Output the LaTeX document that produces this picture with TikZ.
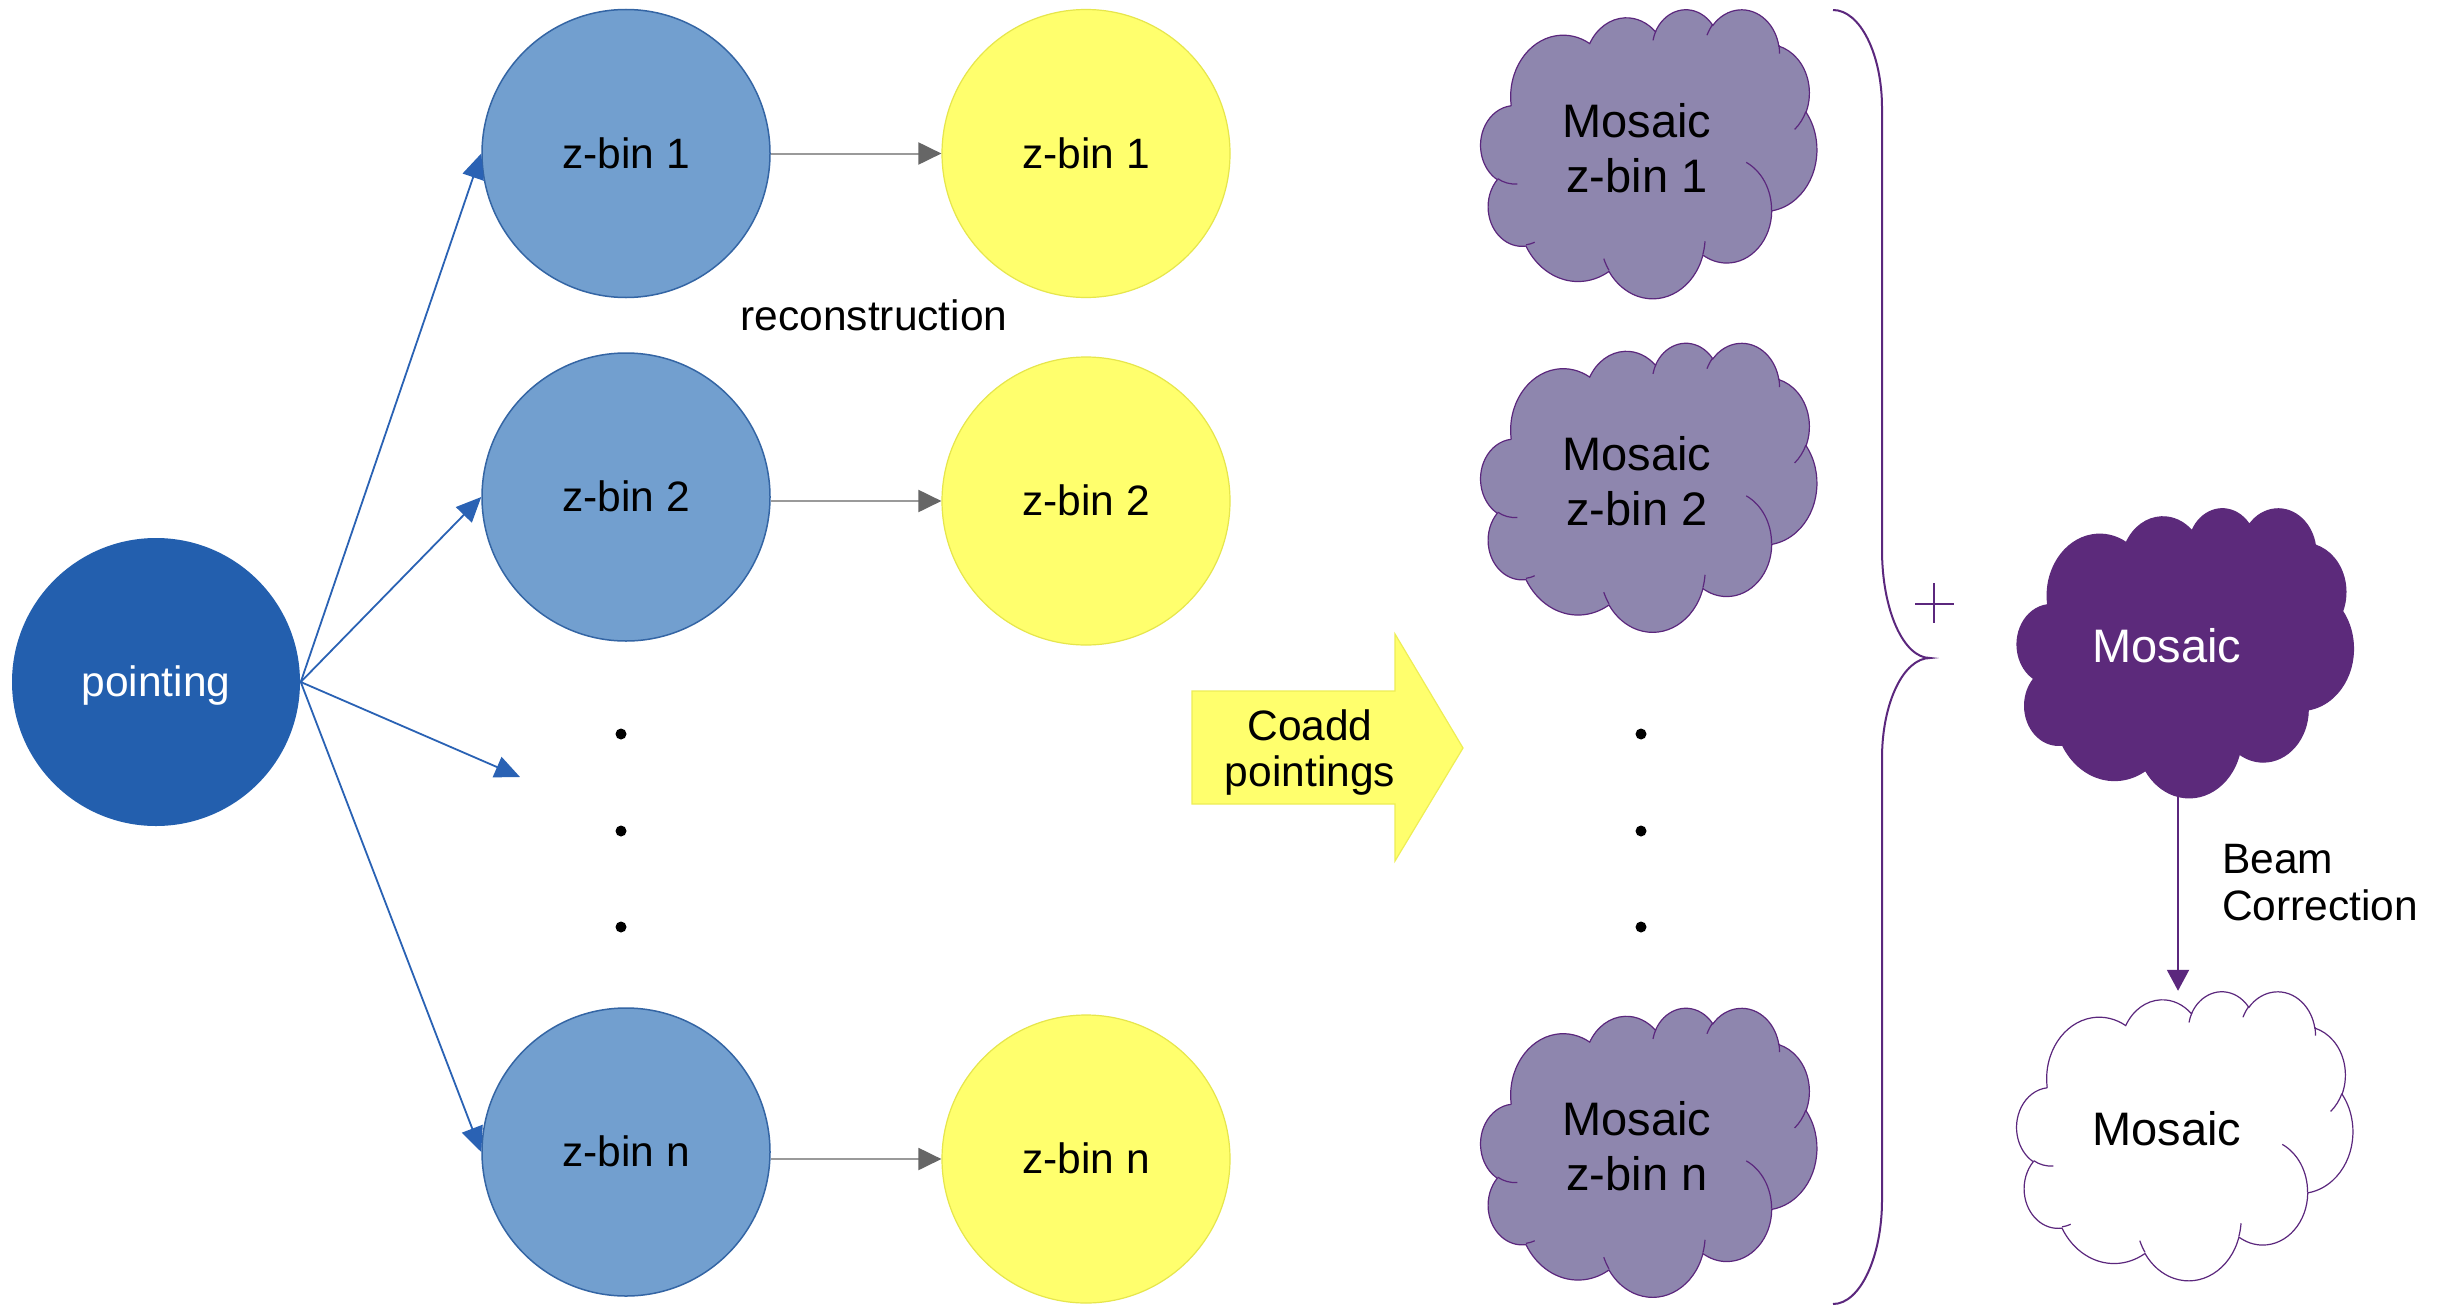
\documentclass[tikz,border=0pt]{standalone}
\usepackage{fontspec}
\setmainfont{Liberation Sans}
\usetikzlibrary{arrows.meta}
\definecolor{pointblue}{HTML}{235FAE}
\definecolor{zblue}{HTML}{729FCF}
\definecolor{zblueline}{HTML}{3465A4}
\definecolor{zyellow}{HTML}{FFFF6D}
\definecolor{zyellowline}{HTML}{E6E64C}
\definecolor{arrowblue}{HTML}{2A62B4}
\definecolor{graylinec}{HTML}{9A9A9A}
\definecolor{grayhead}{HTML}{666666}
\definecolor{cloudfill}{HTML}{8E86AE}
\definecolor{purpleline}{HTML}{5B277D}
\definecolor{darkpurple}{HTML}{5C2A7B}
\definecolor{coaddline}{HTML}{EEEE55}

% OOXML cloud: convert visual angles to parametric angles
\newcommand\cldcalc[5]{%
  \pgfmathsetmacro\cldtmps{atan2((#2)*sin(#4),(#3)*cos(#4))}%
  \pgfmathsetmacro\cldtmpe{atan2((#2)*sin(#4+#5),(#3)*cos(#4+#5))}%
  \pgfmathsetmacro\cldtmpe{(\cldtmpe<\cldtmps) ? (\cldtmpe+360) : (\cldtmpe)}%
  \expandafter\let\csname cld#1s\endcsname\cldtmps
  \expandafter\let\csname cld#1e\endcsname\cldtmpe}
\cldcalc{A}{67.53}{91.90}{-190.48748}{123.78053}
\cldcalc{B}{53.33}{72.67}{-144.10238}{89.94523}
\cldcalc{C}{43.65}{59.45}{-145.80792}{99.72302}
\cldcalc{D}{48.57}{65.95}{-130.98607}{117.24173}
\cldcalc{E}{53.33}{72.73}{-78.70888}{109.02692}
\cldcalc{F}{67.75}{92.20}{-46.26725}{130.269}
\cldcalc{G}{57.85}{78.67}{0.62502}{114.03333}
\cldcalc{H}{67.52}{92.15}{22.4516}{115.17255}
\cldcalc{I}{77.20}{105.43}{66.24263}{75.71102}
\cldcalc{J}{43.60}{59.18}{-274.94208}{146.73557}
\cldcalc{K}{43.45}{59.45}{-246.8285}{152.51885}
\cldcalc{L}{43.45}{59.45}{86.742}{26.4295}
\cldcalc{M}{43.60}{59.18}{73.61047}{11.44747}
\cldcalc{N}{67.52}{92.15}{137.62415}{14.0811}
\cldcalc{O}{67.52}{92.15}{6.45327}{15.99835}
\cldcalc{P}{57.85}{78.67}{-70.29235}{70.91737}
\cldcalc{Q}{53.33}{72.73}{30.31803}{27.7515}
\cldcalc{R}{48.57}{65.95}{-13.74433}{14.8589}
\cldcalc{S}{48.57}{65.95}{-149.18145}{18.19537}
\cldcalc{T}{43.65}{59.45}{-163.49427}{17.68635}

\newcommand\cloudshape[3]{%
  \begin{scope}[shift={(#1.north west)}, xscale=336/432, yscale=289/432]
    \path[fill=#2, draw=#3, line width=1.2pt] (39.00,143.70)
      arc[start angle=\cldAs, end angle=\cldAe, x radius=67.53, y radius=91.90]
      arc[start angle=\cldBs, end angle=\cldBe, x radius=53.33, y radius=72.67]
      arc[start angle=\cldCs, end angle=\cldCe, x radius=43.65, y radius=59.45]
      arc[start angle=\cldDs, end angle=\cldDe, x radius=48.57, y radius=65.95]
      arc[start angle=\cldEs, end angle=\cldEe, x radius=53.33, y radius=72.73]
      arc[start angle=\cldFs, end angle=\cldFe, x radius=67.75, y radius=92.20]
      arc[start angle=\cldGs, end angle=\cldGe, x radius=57.85, y radius=78.67]
      arc[start angle=\cldHs, end angle=\cldHe, x radius=67.52, y radius=92.15]
      arc[start angle=\cldIs, end angle=\cldIe, x radius=77.20, y radius=105.43]
      arc[start angle=\cldJs, end angle=\cldJe, x radius=43.60, y radius=59.18]
      arc[start angle=\cldKs, end angle=\cldKe, x radius=43.45, y radius=59.45]
      -- cycle;
    \draw[#3, line width=1.2pt]
      (46.93,261.77) arc[start angle=\cldLs, end angle=\cldLe, x radius=43.45, y radius=59.45]
      (69.28,348.99) arc[start angle=\cldMs, end angle=\cldMe, x radius=43.60, y radius=59.18]
      (164.78,390.90) arc[start angle=\cldNs, end angle=\cldNe, x radius=67.52, y radius=92.15]
      (288.27,347.51) arc[start angle=\cldOs, end angle=\cldOe, x radius=67.52, y radius=92.15]
      (341.29,229.54) arc[start angle=\cldPs, end angle=\cldPe, x radius=57.85, y radius=78.67]
      (417.98,153.54) arc[start angle=\cldQs, end angle=\cldQe, x radius=53.33, y radius=72.73]
      (383.24,54.26) arc[start angle=\cldRs, end angle=\cldRe, x radius=48.57, y radius=65.95]
      (290.78,39.52) arc[start angle=\cldSs, end angle=\cldSe, x radius=48.57, y radius=65.95]
      (221.41,47.20) arc[start angle=\cldTs, end angle=\cldTe, x radius=43.65, y radius=59.45];
  \end{scope}}

\begin{document}
\begin{tikzpicture}[x=1pt, y=-1pt,
  font=\fontsize{42.5}{46}\selectfont,
  circ/.style={circle, minimum size=288pt, inner sep=0pt, text height=38.5pt, text depth=9pt, line width=1.5pt},
  pointnode/.style={circ, fill=pointblue, text=white},
  zbinblue/.style={circ, fill=zblue, draw=zblueline},
  zbinyellow/.style={circ, fill=zyellow, draw=zyellowline, line width=1.2pt},
  bluearrow/.style={draw=arrowblue, line width=1.8pt, -{Triangle[length=25pt,width=22pt]}},
  grayarrow/.style={draw=graylinec, line width=2pt, -{Triangle[length=23pt,width=22pt,color=grayhead]}},
  purplearrow/.style={draw=purpleline, line width=2pt, -{Triangle[length=21pt,width=22pt]}},
  cloudbox/.style={rectangle, minimum width=336pt, minimum height=289pt, inner sep=0pt},
  cloudtext/.style={anchor=base, align=center, inner sep=0pt, font=\fontsize{47}{55}\selectfont},
  label/.style={anchor=base, inner sep=0pt},
  dotmark/.style={fill=black}
]
\useasboundingbox (0,0) rectangle (2448,1306);
\fill[white] (0,0) rectangle (2448,1306);

% circles
\node[pointnode] (P) at (156,682) {pointing};
\node[zbinblue] (B1) at (626,153.5) {z-bin 1};
\node[zbinblue] (B2) at (626,497) {z-bin 2};
\node[zbinblue] (Bn) at (626,1152) {z-bin n};
\node[zbinyellow] (Y1) at (1086,153.5) {z-bin 1};
\node[zbinyellow] (Y2) at (1086,501) {z-bin 2};
\node[zbinyellow] (Yn) at (1086,1159) {z-bin n};

% pointing arrows
\coordinate (free) at (520,777);
\draw[bluearrow] (P.east) -- (B1.west);
\draw[bluearrow] (P.east) -- (B2.west);
\draw[bluearrow] (P.east) -- (free);
\draw[bluearrow] (P.east) -- (Bn.west);

% reconstruction arrows
\draw[grayarrow] (Y1.west -| B1.east) -- (Y1.west);
\draw[grayarrow] (Y2.west -| B2.east) -- (Y2.west);
\draw[grayarrow] (Yn.west -| Bn.east) -- (Yn.west);
\node[label] (rec) at (874,330) {reconstruction};

% dots
\fill[dotmark] (621,734) circle[radius=5.5];
\fill[dotmark] (621,831) circle[radius=5.5];
\fill[dotmark] (621,927) circle[radius=5.5];
\fill[dotmark] (1641,734) circle[radius=5.5];
\fill[dotmark] (1641,831) circle[radius=5.5];
\fill[dotmark] (1641,927) circle[radius=5.5];

% Coadd block arrow
\path[fill=zyellow, draw=coaddline, line width=1.2pt]
  (1192,691) -- (1395,691) -- (1395,634) -- (1463,748) -- (1395,861) -- (1395,804) -- (1192,804) -- cycle;
\node[label, align=center] (coadd) at (1310,786) {Coadd\\pointings};

% mosaic clouds
\node[cloudbox] (C1) at (1649,153.5) {};
\cloudshape{C1}{cloudfill}{purpleline}
\node[cloudtext] (t1) at (1637,192) {Mosaic\\z-bin 1};
\node[cloudbox] (C2) at (1649,487) {};
\cloudshape{C2}{cloudfill}{purpleline}
\node[cloudtext] (t2) at (1637,525.5) {Mosaic\\z-bin 2};
\node[cloudbox] (Cn) at (1649,1152) {};
\cloudshape{Cn}{cloudfill}{purpleline}
\node[cloudtext] (tn) at (1637,1190.5) {Mosaic\\z-bin n};

% brace and plus
\draw[purpleline, line width=2pt]
  (1833,10) .. controls (1860,10) and (1882,54) .. (1882,108)
  -- (1882,550) .. controls (1882,610) and (1903.5,658) .. (1930,658)
  .. controls (1903.5,658) and (1882,703) .. (1882,758)
  -- (1882,1200) .. controls (1882,1257) and (1860,1304) .. (1833,1304);
\draw[purpleline, line width=2.5pt] (1915,604) -- (1954,604) (1934,583) -- (1934,623);

% final mosaic
\node[cloudbox] (Md) at (2185.5,652.5) {};
\cloudshape{Md}{darkpurple}{darkpurple}
\node[cloudtext, text=white] (tmd) at (2167,662) {Mosaic};
\node[cloudbox] (Mw) at (2185,1135.5) {};
\cloudshape{Mw}{white}{purpleline}
\node[cloudtext] (tmw) at (2167,1145) {Mosaic};

\draw[purplearrow] ([xshift=-7.5pt]Md.south) -- ([xshift=-7pt]Mw.north);
\node[label, anchor=base west, align=left, font=\fontsize{42.5}{47}\selectfont] (beam) at (2222,920) {Beam\\Correction};
\end{tikzpicture}
\end{document}
